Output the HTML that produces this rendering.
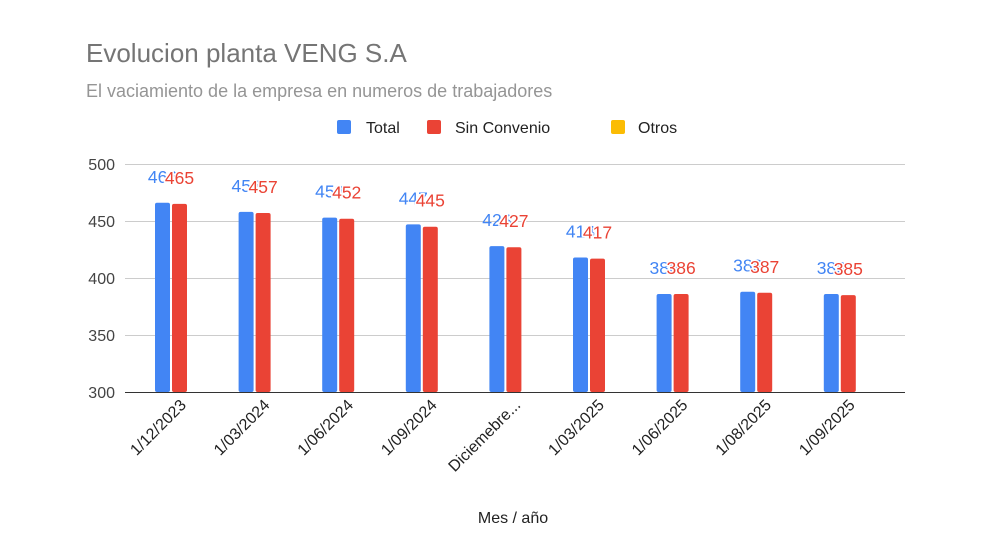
<!DOCTYPE html>
<html><head><meta charset="utf-8"><style>body{margin:0;background:#fff}svg{display:block;font-family:"Liberation Sans",Arial,sans-serif}</style></head>
<body>
<svg width="1006" height="544" xmlns="http://www.w3.org/2000/svg">
<rect width="1006" height="544" fill="#fff"/>
<text x="86" y="62" font-size="26" fill="#757575">Evolucion planta VENG S.A</text>
<text x="86" y="97" font-size="18" fill="#959595">El vaciamiento de la empresa en numeros de trabajadores</text>
<rect x="337" y="120" width="14" height="14" fill="#4285f4" rx="2"/>
<text x="366" y="133" font-size="16" fill="#222">Total</text>
<rect x="427" y="120" width="14" height="14" fill="#ea4335" rx="2"/>
<text x="455" y="133" font-size="16" fill="#222">Sin Convenio</text>
<rect x="611" y="120" width="14" height="14" fill="#fbbc04" rx="2"/>
<text x="638" y="133" font-size="16" fill="#222">Otros</text>
<g stroke="#ccc" stroke-width="1">
<line x1="125" x2="905" y1="164.5" y2="164.5"/>
<line x1="125" x2="905" y1="221.5" y2="221.5"/>
<line x1="125" x2="905" y1="278.5" y2="278.5"/>
<line x1="125" x2="905" y1="335.5" y2="335.5"/>
</g>
<g font-size="16" fill="#444" text-anchor="end">
<text x="115" y="170">500</text><text x="115" y="227">450</text><text x="115" y="284">400</text><text x="115" y="341">350</text><text x="115" y="398">300</text>
</g>
<g fill="#4285f4">
<rect x="155" y="202.8" width="15" height="189.2" rx="2"/>
<rect x="238.6" y="211.9" width="15" height="180.1" rx="2"/>
<rect x="322.2" y="217.6" width="15" height="174.4" rx="2"/>
<rect x="405.8" y="224.4" width="15" height="167.6" rx="2"/>
<rect x="489.4" y="246.1" width="15" height="145.9" rx="2"/>
<rect x="573" y="257.5" width="15" height="134.5" rx="2"/>
<rect x="656.6" y="294" width="15" height="98" rx="2"/>
<rect x="740.2" y="291.7" width="15" height="100.3" rx="2"/>
<rect x="823.8" y="294" width="15" height="98" rx="2"/>
</g>
<g fill="#ea4335">
<rect x="172" y="203.9" width="15" height="188.1" rx="2"/>
<rect x="255.6" y="213" width="15" height="179" rx="2"/>
<rect x="339.2" y="218.7" width="15" height="173.3" rx="2"/>
<rect x="422.8" y="226.7" width="15" height="165.3" rx="2"/>
<rect x="506.4" y="247.2" width="15" height="144.8" rx="2"/>
<rect x="590" y="258.6" width="15" height="133.4" rx="2"/>
<rect x="673.6" y="294" width="15" height="98" rx="2"/>
<rect x="757.2" y="292.8" width="15" height="99.2" rx="2"/>
<rect x="840.8" y="295.1" width="15" height="96.9" rx="2"/>
</g>
<g font-size="17.5" fill="#4285f4" text-anchor="middle">
<text x="162.5" y="182.8">466</text>
<text x="246.1" y="191.9">458</text>
<text x="329.7" y="197.6">453</text>
<text x="413.3" y="204.4">447</text>
<text x="496.9" y="226.1">428</text>
<text x="580.5" y="237.5">418</text>
<text x="664.1" y="274">386</text>
<text x="747.7" y="271.7">388</text>
<text x="831.3" y="274">386</text>
</g>
<g font-size="17.5" fill="#ea4335" text-anchor="middle" stroke="#fff" stroke-width="3" paint-order="stroke">
<text x="179.5" y="183.9">465</text>
<text x="263.1" y="193">457</text>
<text x="346.7" y="198.7">452</text>
<text x="430.3" y="206.7">445</text>
<text x="513.9" y="227.2">427</text>
<text x="597.5" y="238.6">417</text>
<text x="681.1" y="274">386</text>
<text x="764.7" y="272.8">387</text>
<text x="848.3" y="275.1">385</text>
</g>
<line x1="125" x2="905" y1="392.5" y2="392.5" stroke="#333" stroke-width="1"/>
<g font-size="16" fill="#222" text-anchor="end">
<text x="187" y="406" transform="rotate(-45 187 406)">1/12/2023</text>
<text x="270.6" y="406" transform="rotate(-45 270.6 406)">1/03/2024</text>
<text x="354.2" y="406" transform="rotate(-45 354.2 406)">1/06/2024</text>
<text x="437.8" y="406" transform="rotate(-45 437.8 406)">1/09/2024</text>
<text x="521.4" y="406" transform="rotate(-45 521.4 406)">Diciemebre...</text>
<text x="605" y="406" transform="rotate(-45 605 406)">1/03/2025</text>
<text x="688.6" y="406" transform="rotate(-45 688.6 406)">1/06/2025</text>
<text x="772.2" y="406" transform="rotate(-45 772.2 406)">1/08/2025</text>
<text x="855.8" y="406" transform="rotate(-45 855.8 406)">1/09/2025</text>
</g>
<text x="513" y="523" font-size="16" fill="#222" text-anchor="middle">Mes / año</text>
</svg>
</body></html>
